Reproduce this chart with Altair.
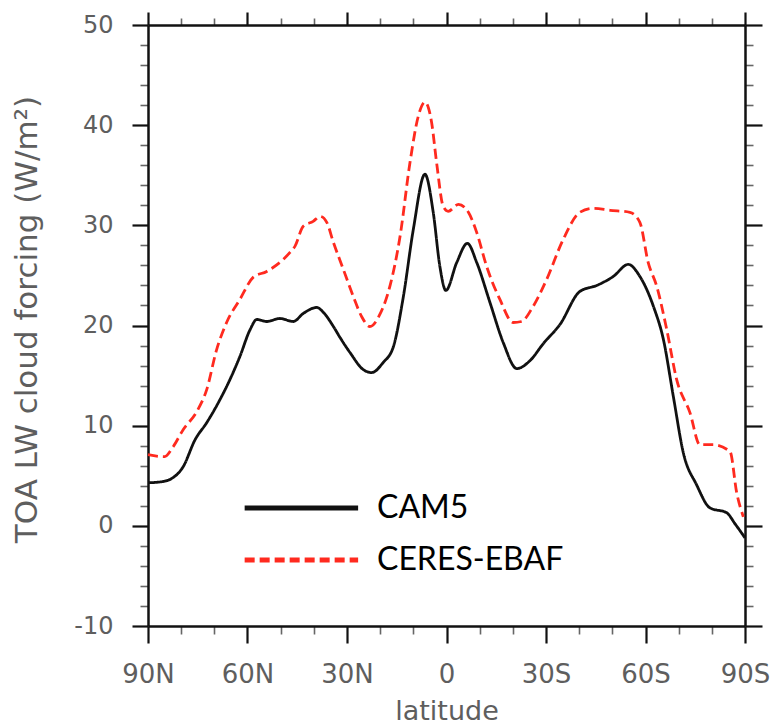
import altair as alt
import pandas as pd

series_names = ["CAM5", "CERES-EBAF"]

lat_cam5 = [90, 86, 83, 79.4, 75.8, 72.3, 68.3, 65.3, 62.3, 59.2, 57.2, 54.2, 50.2, 46.2,
            43.2, 39.1, 37.1, 34.1, 32.1, 29.1, 25.1, 22.6, 19.1, 16.0, 13.0, 10.0, 6.5,
            4.0, 2.0, 0.2, -3.1, -6.3, -9.1, -13.1, -17.1, -21.2, -25.2, -29.2, -34.2,
            -40.2, -45.3, -50.3, -54.8, -58.3, -62.4, -65.4, -68.4, -71.4, -75.4, -79.4,
            -84.5, -87.0, -90]
val_cam5 = [4.3, 4.4, 4.7, 5.9, 8.6, 10.3, 12.6, 14.6, 16.9, 19.6, 20.6, 20.4, 20.7, 20.4,
            21.2, 21.8, 21.3, 19.9, 18.8, 17.3, 15.6, 15.3, 16.3, 17.9, 22.9, 29.6, 35.1,
            31.3, 25.9, 23.5, 26.3, 28.2, 26.3, 22.3, 18.3, 15.7, 16.5, 18.2, 20.1,
            23.4, 24.0, 24.9, 26.1, 24.9, 21.9, 18.6, 12.9, 7.3, 4.1, 1.8,
            1.3, 0.2, -1.2]

lat_ceres = [90, 85, 82.4, 79.4, 75.3, 72.3, 69.3, 66.3, 62.3, 58.3, 54.2, 49.2, 47.2, 45.7,
             43.2, 40.2, 38.1, 36.1, 34.1, 31.1, 28.1, 25.6, 23.1, 20.1, 17.0, 14.0, 11.0,
             8.5, 6.5, 4.5, 3.0, 1.0, -0.5, -3.6, -6.6, -9.1, -12.1, -16.1, -20.1, -22.6,
             -26.1, -30.2, -35.2, -40.2, -44.3, -49.3, -55.3, -58.3, -60.8, -63.4, -66.4,
             -69.4, -73.4, -76.4, -80.4, -85.5, -87.5, -89.5]
val_ceres = [7.1, 6.9, 7.9, 9.6, 11.4, 13.6, 17.6, 20.3, 22.6, 24.8, 25.4, 26.6, 27.3, 27.9,
             29.9, 30.4, 30.9, 30.3, 28.3, 25.6, 22.9, 20.9, 19.9, 21.1, 24.0, 28.9, 36.3,
             40.9, 42.3, 40.3, 36.3, 31.9, 31.4, 32.1, 31.3, 29.3, 25.9, 22.6, 20.3, 20.4,
             21.9, 24.6, 28.6, 31.3, 31.7, 31.5, 31.3, 30.3, 26.3, 23.9, 19.6,
             14.6, 11.3, 8.1, 8.1, 7.4, 3.3, 0.9]

x_ticks = list(range(-90, 91, 10))
y_ticks = list(range(-10, 51, 2))

df = pd.concat([
    pd.DataFrame({"lat": lat_cam5, "val": val_cam5, "series": series_names[0]}),
    pd.DataFrame({"lat": lat_ceres, "val": val_ceres, "series": series_names[1]}),
], ignore_index=True)

xscale = alt.Scale(domain=[90, -90], nice=False)
yscale = alt.Scale(domain=[-10, 50], nice=False, zero=False)
cscale = alt.Scale(domain=series_names, range=["#111111", "#ff2a1f"])
dscale = alt.Scale(domain=series_names, range=[[1, 0], [10, 5]])

MX = "datum.value % 30 === 0"
MY = "datum.value % 10 === 0"


def cond(test, major, minor):
    return {"condition": {"test": test, "value": major}, "value": minor}


label_font = "DejaVu Sans"
gray = "#5e5e5e"

x_bottom = alt.Axis(
    orient="bottom", values=x_ticks, grid=False,
    labelExpr=("datum.value % 30 === 0 ? (datum.value > 0 ? datum.value + 'N' : "
               "(datum.value < 0 ? (-datum.value) + 'S' : '0')) : ''"),
    labelFlush=False, labelOverlap=False, labelFont=label_font, labelFontSize=26,
    labelColor=gray, labelPadding=18,
    tickSize=cond(MX, 17, 8), tickWidth=cond(MX, 2.2, 1.6),
    tickColor=cond(MX, "#111111", "#666666"),
    title="latitude", titleFont=label_font, titleFontSize=27, titleColor=gray,
    titleFontWeight="normal", titleX=298.5, titleY=93, titleAlign="center",
    titleBaseline="alphabetic",
)
y_left = alt.Axis(
    orient="left", values=y_ticks, grid=False,
    labelExpr="datum.value % 10 === 0 ? datum.value : ''",
    labelFlush=False, labelOverlap=False, labelFont=label_font, labelFontSize=24,
    labelColor=gray, labelPadding=19,
    tickSize=cond(MY, 16, 8), tickWidth=cond(MY, 2.2, 1.6),
    tickColor=cond(MY, "#111111", "#666666"),
    title="TOA LW cloud forcing (W/m²)", titleFont=label_font, titleFontSize=31,
    titleColor=gray, titleFontWeight="normal", titleAngle=270,
    titleX=-112, titleY=294, titleAlign="center", titleBaseline="alphabetic",
)
x_top = alt.Axis(
    orient="top", values=x_ticks, grid=False, labels=False, title=None,
    tickSize=cond(MX, 13, 7), tickWidth=cond(MX, 2.2, 1.6),
    tickColor=cond(MX, "#111111", "#666666"),
)
y_right = alt.Axis(
    orient="right", values=y_ticks, grid=False, labels=False, title=None,
    tickSize=cond(MY, 17, 8), tickWidth=cond(MY, 2.2, 1.6),
    tickColor=cond(MY, "#111111", "#666666"),
)

legend = alt.Legend(
    orient="none", legendX=92, legendY=467, title=None, padding=0,
    symbolType="M-1,0H9", symbolSize=515, symbolStrokeWidth=5,
    labelFont="Lato", labelFontSize=32, labelColor="black", labelLimit=400,
    labelOffset=105, rowPadding=20,
)

base = alt.Chart(df)

legend_layer = base.transform_filter("false").mark_line(strokeWidth=5).encode(
    x=alt.X("lat:Q", scale=xscale, axis=None),
    y=alt.Y("val:Q", scale=yscale, axis=None),
    color=alt.Color("series:N", scale=cscale, legend=legend),
    strokeDash=alt.StrokeDash("series:N", scale=dscale, legend=legend),
)

lines = base.mark_line(interpolate="monotone", strokeWidth=2.8).encode(
    x=alt.X("lat:Q", scale=xscale, axis=x_bottom),
    y=alt.Y("val:Q", scale=yscale, axis=y_left),
    color=alt.Color("series:N", scale=cscale),
    strokeDash=alt.StrokeDash("series:N", scale=dscale),
)

frame = base.mark_line(opacity=0).encode(
    x=alt.X("lat:Q", scale=xscale, axis=x_top),
    y=alt.Y("val:Q", scale=yscale, axis=y_right),
    detail="series:N",
)

chart = alt.layer(legend_layer, lines, frame).resolve_axis(
    x="independent", y="independent"
).properties(
    width=597, height=601,
    padding={"left": 148, "top": 25, "right": 32, "bottom": 99},
    autosize=alt.AutoSizeParams(type="none"),
    background="white",
).configure_axis(
    domainColor="#111111", domainWidth=2.5,
).configure_view(stroke=None)

chart.save("out.html", embed_options={"renderer": "svg", "actions": False})
